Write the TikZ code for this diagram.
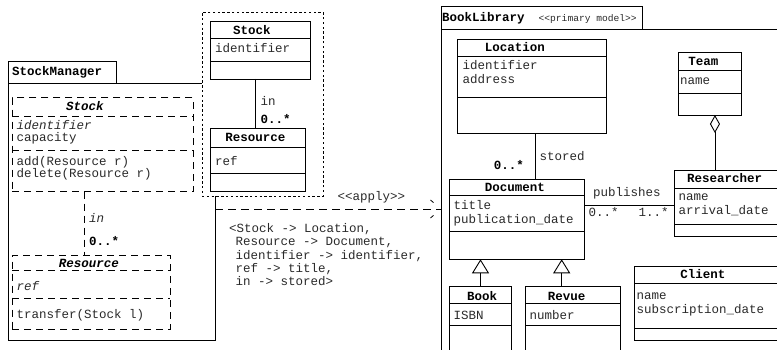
\documentclass[tikz,border=0pt]{standalone}
\usepackage{fontspec}
\setmainfont{Liberation Mono}[Ligatures=ResetAll]
\usetikzlibrary{arrows.meta}

\newcommand\fsz{\fontsize{12.5}{14}\selectfont}
\newcommand\fsmall{\fontsize{9.6}{11}\selectfont}
\definecolor{ink}{HTML}{2A2A2A}

% class box: style prefix, name, x1, y1, x2, y2, first separator, second separator
\newcommand\umlcls[8]{%
  \node[#1cls, minimum width={(#5-#3)*1pt}, minimum height={(#6-#4)*1pt}]
    (#2) at ({(#3+#5)/2},{(#4+#6)/2}) {};
  \draw[#1sep] (#3,#7) -- (#5,#7) (#3,#8) -- (#5,#8);}

\tikzset{
  solidcls/.style={draw, fill=white, line width=0.9pt, inner sep=0pt, outer sep=0pt},
  solidsep/.style={line width=0.9pt},
  dashcls/.style={draw, fill=white, line width=0.9pt, inner sep=0pt, outer sep=0pt,
                  dash pattern=on 7pt off 5pt},
  dashsep/.style={line width=0.9pt, dash pattern=on 7pt off 5pt},
  dotbox/.style={draw, fill=white, line width=0.8pt, inner sep=0pt, outer sep=0pt,
                 dash pattern=on 2.4pt off 2.4pt},
  attr/.style={anchor=base west, inner sep=0pt, font=\fsz, text=ink},
  ttl/.style={anchor=base, inner sep=0pt, font=\fsz\bfseries},
  ittl/.style={anchor=base, inner sep=0pt, font=\fsz\bfseries\itshape},
  iattr/.style={anchor=base west, inner sep=0pt, font=\fsz\itshape, text=ink},
  mult/.style={anchor=base west, inner sep=0pt, font=\fsz\bfseries},
  assoc/.style={line width=0.9pt},
  dashassoc/.style={line width=0.9pt, dash pattern=on 7pt off 5pt},
  depline/.style={line width=0.9pt, dash pattern=on 8pt off 5pt},
  gen/.style={line width=0.9pt, -{Triangle[open, length=14pt, width=17pt]}},
  aggr/.style={line width=0.9pt, {Diamond[open, length=18pt, width=10pt]}-},
}

\begin{document}
\begin{tikzpicture}[x=1pt, y=-1pt]
\useasboundingbox (0,0) rectangle (777,350);
\clip (0,0) rectangle (777,350);

% ---------- package StockManager ----------
\node[solidcls, minimum width=108pt, minimum height=22pt] (smTab) at (62,72) {};
\node[solidcls, minimum width=207pt, minimum height=257pt] (smBody) at (111.5,211.5) {};
\node[anchor=base west, inner sep=0pt, font=\fsz\bfseries] (smName) at (12,75.5) {StockManager};

% parameter model (dotted frame)
\node[dotbox, minimum width=121pt, minimum height=184pt] (srcModel) at (262.5,104) {};

\umlcls{solid}{pStock}{210}{21}{310}{79}{38}{61}
\node[ttl] (pStockT) at (252,34.2) {Stock};
\node[attr] (pStockA) at (215,52.5) {identifier};

\umlcls{solid}{pRes}{210.7}{128.3}{305}{191.7}{147.7}{173.3}
\node[ttl] (pResT) at (255.3,141.8) {Resource};
\node[attr] (pResA) at (215,165.2) {ref};

\draw[assoc] ([xshift=-4.3pt]pStock.south) -- ([xshift=-4.3pt]pStock.south |- pRes.north);
\node[attr] (pIn) at (260.5,105.5) {in};
\node[mult] (pMult) at (260.5,123.5) {0..*};

% template classes (dashed)
\umlcls{dash}{tStock}{12.3}{97.7}{193.3}{191.7}{116}{150.7}
\node[ittl] (tStockT) at (85,110.8) {Stock};
\node[iattr] (tStockA1) at (16.5,129.2) {identifier};
\node[attr] (tStockA2) at (16.5,141.8) {capacity};
\node[attr] (tStockM1) at (16.5,165.8) {add(Resource r)};
\node[attr] (tStockM2) at (16.5,177.8) {delete(Resource r)};

\umlcls{dash}{tRes}{12.3}{255}{170}{329}{270.7}{298.3}
\node[ittl] (tResT) at (88.8,267.8) {Resource};
\node[iattr] (tResA) at (16.5,290.8) {ref};
\node[attr] (tResM) at (16.5,318.5) {transfer(Stock l)};

\draw[dashassoc] ([xshift=-18.5pt]tStock.south) -- ([xshift=-18.5pt]tStock.south |- tRes.north);
\node[iattr] (tIn) at (88.8,222.8) {in};
\node[mult] (tMult) at (88.8,245.2) {0..*};

% ---------- package BookLibrary ----------
\node[solidcls, minimum width=201.3pt, minimum height=22.3pt] (blTab) at (541.65,17.85) {};
\node[solidcls, minimum width=359pt, minimum height=331pt] (blBody) at (620.5,194.5) {};
\node[anchor=base west, inner sep=0pt, font=\fsz\bfseries] (blName) at (442,21.2) {BookLibrary};
\node[anchor=base west, inner sep=0pt, font=\fsmall, text=ink] (blStereo) at (538.5,21.2) {{<}{<}primary model{>}{>}};

\umlcls{solid}{Location}{457.7}{39}{606.7}{133.3}{56.7}{97.7}
\node[ttl] (LocT) at (515,51.8) {Location};
\node[attr] (LocA1) at (462.5,69.2) {identifier};
\node[attr] (LocA2) at (462.5,83.5) {address};

\umlcls{solid}{Document}{449.3}{179}{584.3}{259.3}{195.7}{231.7}
\node[ttl] (DocT) at (515,191.8) {Document};
\node[attr] (DocA1) at (453.5,209.2) {title};
\node[attr] (DocA2) at (453.5,223.5) {publication\_date};

\draw[assoc] ([xshift=2.8pt]Location.south) -- ([xshift=2.8pt]Location.south |- Document.north);
\node[attr] (storedL) at (539.5,160.2) {stored};
\node[anchor=base east, inner sep=0pt, font=\fsz\bfseries] (storedM) at (524,169.2) {0..*};

\umlcls{solid}{Team}{678.7}{52.7}{741}{115}{70.7}{93.3}
\node[ttl] (TeamT) at (703.3,65.8) {Team};
\node[attr] (TeamA) at (680,84.5) {name};

\umlcls{solid}{Researcher}{674}{170}{800}{236.7}{188.3}{224}
\node[ttl] (ResT) at (724.7,182.5) {Researcher};
\node[attr] (ResA1) at (678.3,200.8) {name};
\node[attr] (ResA2) at (678.3,214.2) {arrival\_date};

\draw[aggr] ([xshift=5.1pt]Team.south) -- ([xshift=5.1pt]Team.south |- Researcher.north);

\coordinate (pubY) at (0,205);
\draw[assoc] (Document.east |- pubY) -- (Researcher.west |- pubY);
\node[attr] (pubL) at (593,196.8) {publishes};
\node[attr] (pubM1) at (588.5,216.8) {0..*};
\node[attr] (pubM2) at (638.5,216.8) {1..*};

\umlcls{solid}{Client}{634}{266.7}{800}{340}{283.3}{328.3}
\node[ttl] (CliT) at (702.8,278.5) {Client};
\node[attr] (CliA1) at (636.5,299.5) {name};
\node[attr] (CliA2) at (636.5,313.5) {subscription\_date};

\umlcls{solid}{Book}{449.3}{286}{511.7}{360}{303.3}{325}
\node[ttl] (BookT) at (482,300.2) {Book};
\node[attr] (BookA) at (453.5,319.2) {ISBN};

\umlcls{solid}{Revue}{525.7}{286}{620.7}{360}{303.3}{325}
\node[ttl] (RevT) at (566.7,300.2) {Revue};
\node[attr] (RevA) at (529.3,319.2) {number};

\draw[gen] (Book.north) -- (Book.north |- Document.south);
\draw[gen] ([xshift=-11.5pt]Revue.north) -- ([xshift=-11.5pt]Revue.north |- Document.south);

% ---------- binding between the two packages ----------
\coordinate (applyY) at (0,209.5);
\coordinate (applyEnd) at (blBody.west |- applyY);
\draw[depline] (smBody.east |- applyY) -- (applyEnd);
\draw[line width=0.8pt] (applyEnd) ++(-10.5,-9.5) -- ++(3,2.6);
\draw[line width=0.8pt] (applyEnd) ++(-10.5,8.5) -- ++(3,-2.6);
\node[attr] (applyL) at (337.5,200.8) {{<}{<}apply{>}{>}};
\node[attr] (bind1) at (229,232.5) {<Stock -> Location,};
\node[attr] (bind2) at (235.5,245.8) {Resource -> Document,};
\node[attr] (bind3) at (235.5,259.1) {identifier -> identifier,};
\node[attr] (bind4) at (235.5,272.4) {ref -> title,};
\node[attr] (bind5) at (235.5,285.7) {in -> stored>};
\end{tikzpicture}
\end{document}
